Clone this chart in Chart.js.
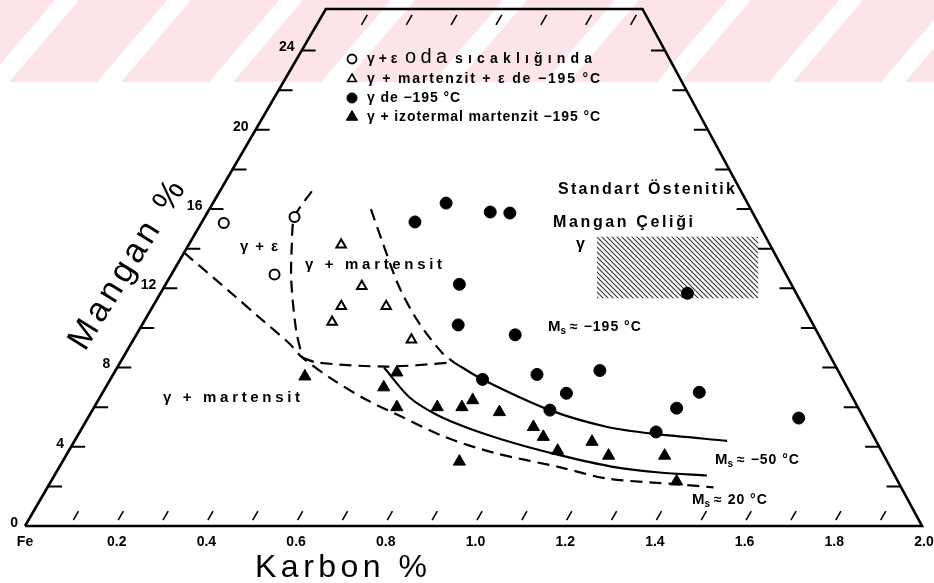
<!DOCTYPE html>
<html>
<head>
<meta charset="utf-8">
<script src="https://cdn.jsdelivr.net/npm/chart.js@4.4.1/dist/chart.umd.min.js"></script>
<style>
  html, body { margin: 0; padding: 0; background: #fff; }
  #wrap { width: 934px; height: 583px; }
</style>
</head>
<body>
<div id="wrap"><canvas id="diagram" width="934" height="583"></canvas></div>
<script>
/* =======================
   Data  (Karbon %, Mangan %)
======================= */
const frameC  = [0, 2.0, 0.706, 0, 0];
const frameMn = [0, 0, 26.1, 26.1, 0];

// ○ γ + ε oda sıcaklığında
const gammaEpsC  = [0.05, 0.20, 0.23];
const gammaEpsMn = [15.3, 15.6, 12.7];

// △ γ + martenzit + ε de −195 °C
const martEpsC  = [0.34, 0.44, 0.42, 0.52, 0.42, 0.62];
const martEpsMn = [14.2, 12.1, 11.1, 11.1, 10.3, 9.4];

// ● γ de −195 °C
const gammaC  = [0.52, 0.475, 0.63, 0.675, 0.655, 0.705, 0.845, 1.175, 0.83,
                 0.945, 1.02, 1.08, 1.035, 1.285, 1.30, 1.33, 1.585];
const gammaMn = [16.3, 15.35, 15.85, 15.8, 12.2, 10.15, 9.65, 11.75, 7.4,
                 7.65, 5.85, 7.85, 6.7, 4.75, 5.95, 6.75, 5.45];

// ▲ γ + izotermal martenzit −195 °C
const isoMartC  = [0.43, 0.62, 0.63, 0.675, 0.765, 0.82, 0.835, 0.91, 1.005,
                   1.04, 1.09, 0.885, 1.155, 1.21, 1.335, 1.395];
const isoMartMn = [7.55, 7.0, 7.75, 6.0, 6.0, 6.0, 6.35, 5.75, 5.0,
                   4.5, 3.8, 3.25, 4.25, 3.55, 3.55, 2.25];

// boundary curves
const ms20C   = [0, 0.17, 0.25, 0.35, 0.40, 0.50, 0.60, 0.70, 0.82, 0.95, 1.12, 1.235, 1.405, 1.485];
const ms20Mn  = [13.8, 11.6, 10.55, 9.25, 8.5, 7.35, 6.35, 5.5, 4.5, 3.7, 2.95, 2.4, 2.1, 1.95];
const epsBoundC  = [0.205, 0.20, 0.23, 0.275, 0.35, 0.40];
const epsBoundMn = [16.9, 15.6, 14.2, 12.4, 9.9, 8.5];
const flatC   = [0.40, 0.44, 0.60, 0.74];
const flatMn  = [8.5, 8.25, 8.05, 8.25];
const ms195DashC  = [0.36, 0.43, 0.525, 0.615, 0.705, 0.745];
const ms195DashMn = [16.0, 14.3, 12.05, 10.25, 8.75, 8.25];
const ms195C  = [0.745, 0.83, 1.02, 1.17, 1.285, 1.455];
const ms195Mn = [8.25, 7.4, 5.85, 5.0, 4.65, 4.3];
const ms50C   = [0.595, 0.69, 0.775, 0.86, 0.98, 1.095, 1.23, 1.345, 1.455];
const ms50Mn  = [8.0, 6.5, 5.6, 4.95, 4.2, 3.6, 3.0, 2.7, 2.55];

// standart östenitik mangan çeliği (hatched)
const hatchC  = [0.90, 1.26, 1.34, 0.97];
const hatchMn = [14.6, 14.6, 11.5, 11.5];

// axis ticks
const karbonTicks  = [0, 0.2, 0.4, 0.6, 0.8, 1.0, 1.2, 1.4, 1.6, 1.8, 2.0];
const karbonLabels = ["Fe", "0.2", "0.4", "0.6", "0.8", "1.0", "1.2", "1.4", "1.6", "1.8", "2.0"];
const manganTicks  = [0, 4, 8, 12, 16, 20, 24];
const manganLabels = ["0", "4", "8", "12", "16", "20", "24"];

/* =======================
   Geometry helpers
======================= */
const SKEW = 0.0257;          // slant of the Mn axis, in %C per %Mn
const FONT = '"Liberation Sans", Arial, sans-serif';

function toPoints(cs, mns) {
  return cs.map((c, i) => ({ x: c + SKEW * mns[i], y: mns[i] }));
}

function markers(cs, mns, style, radius, fill, bw) {
  return {
    data: toPoints(cs, mns),
    pointStyle: style,
    pointRadius: radius,
    pointBackgroundColor: fill,
    pointBorderColor: "#000",
    pointBorderWidth: bw,
    showLine: false,
    clip: false
  };
}

function curve(cs, mns, dashed, width = 2.2, tension = 0.3) {
  return {
    data: toPoints(cs, mns),
    showLine: true,
    borderColor: "#000",
    borderWidth: width,
    borderDash: dashed ? [12, 7] : [],
    pointRadius: 0,
    tension: tension,
    fill: false,
    clip: false
  };
}

function hatchPattern() {
  const c = document.createElement("canvas");
  c.width = 5; c.height = 5;
  const g = c.getContext("2d");
  g.strokeStyle = "#333";
  g.lineWidth = 1.1;
  g.beginPath();
  g.moveTo(-1, -1); g.lineTo(6, 6);
  g.moveTo(-1, 4); g.lineTo(1, 6);
  g.moveTo(4, -1); g.lineTo(6, 1);
  g.stroke();
  return g.createPattern(c, "repeat");
}

/* =======================
   Text helpers
======================= */
function fitText(ctx, str, x, y, width, font) {
  ctx.font = font;
  ctx.letterSpacing = "0px";
  const w = ctx.measureText(str).width;
  const n = [...str].length;
  const sp = Math.max(0, (width - w) / Math.max(1, n - 1));
  ctx.letterSpacing = sp + "px";
  ctx.textAlign = "left";
  ctx.fillText(str, x, y);
  ctx.letterSpacing = "0px";
}

function msLabel(ctx, rest, x, y) {
  ctx.textAlign = "left";
  ctx.font = "bold 15px " + FONT;
  ctx.fillText("M", x, y);
  let w = ctx.measureText("M").width;
  ctx.font = "bold 10px " + FONT;
  ctx.fillText("s", x + w, y + 4);
  w += ctx.measureText("s").width + 4;
  ctx.font = "bold 14px " + FONT;
  ctx.letterSpacing = "1px";
  ctx.fillText(rest, x + w, y);
  ctx.letterSpacing = "0px";
}

function marker(ctx, style, x, y, r, filled, bw) {
  ctx.save();
  ctx.fillStyle = filled ? "#000" : "#fff";
  ctx.strokeStyle = "#000";
  ctx.lineWidth = bw;
  Chart.helpers.drawPoint(ctx, { pointStyle: style, radius: r, rotation: 0, borderWidth: bw }, x, y);
  ctx.restore();
}

/* =======================
   Decoration plugin: watermark, frame ticks, labels, legend
======================= */
const decor = {
  id: "decor",
  beforeDraw(chart) {
    const { ctx, width, height } = chart;
    ctx.save();
    ctx.fillStyle = "#fff";
    ctx.fillRect(0, 0, width, height);
    ctx.beginPath();
    ctx.rect(0, 0, width, 82);
    ctx.clip();
    ctx.fillStyle = "#fce4e9";
    ctx.fillRect(0, 0, width, 82);
    ctx.fillStyle = "#fff";
    for (let x = 55 - 224; x < width + 120; x += 112) {
      ctx.beginPath();
      ctx.moveTo(x, 0);
      ctx.lineTo(x + 24, 0);
      ctx.lineTo(x - 46, 82);
      ctx.lineTo(x - 70, 82);
      ctx.closePath();
      ctx.fill();
    }
    ctx.restore();
  },
  afterDatasetsDraw(chart) {
    const { ctx } = chart;
    const xs = chart.scales.x, ys = chart.scales.y;
    const P = (c, mn) => [xs.getPixelForValue(c + SKEW * mn), ys.getPixelForValue(mn)];
    const rightC = mn => frameC[1] + (frameC[2] - frameC[1]) * mn / frameMn[2];

    ctx.save();
    ctx.strokeStyle = "#000";
    ctx.fillStyle = "#000";
    ctx.lineWidth = 2;

    // Mn ticks on both slanted edges
    for (let m = 2; m <= 24; m += 2) {
      const [lx, ly] = P(0, m);
      const [rx, ry] = P(rightC(m), m);
      ctx.beginPath();
      ctx.moveTo(lx, ly); ctx.lineTo(lx + 14, ly);
      ctx.moveTo(rx, ry); ctx.lineTo(rx - 14, ry);
      ctx.stroke();
    }
    // C ticks, slanted, on bottom and top edges
    ctx.lineWidth = 1.6;
    for (let i = 1; i <= 19; i++) {
      const c = i / 10;
      const [x1, y1] = P(c, 0.3), [x2, y2] = P(c, 0.75);
      ctx.beginPath(); ctx.moveTo(x1, y1); ctx.lineTo(x2, y2); ctx.stroke();
    }
    for (let i = 1; i <= 7; i++) {
      const c = i / 10;
      const [x1, y1] = P(c, 25.3), [x2, y2] = P(c, 25.8);
      ctx.beginPath(); ctx.moveTo(x1, y1); ctx.lineTo(x2, y2); ctx.stroke();
    }

    // tick labels
    ctx.font = "bold 14px " + FONT;
    ctx.textBaseline = "middle";
    ctx.textAlign = "right";
    manganTicks.forEach((m, i) => {
      const [x, y] = P(0, m);
      ctx.fillText(manganLabels[i], x - 7, y - 3);
    });
    ctx.textAlign = "center";
    karbonTicks.forEach((c, i) => {
      const [x, y] = P(c, 0);
      ctx.fillText(karbonLabels[i], x + (i === 0 ? 0 : 2), y + 16);
    });

    // axis titles
    ctx.textBaseline = "alphabetic";
    fitText(ctx, "Karbon %", 255, 577, 172, "32px " + FONT);
    ctx.save();
    ctx.translate(85, 352);
    ctx.rotate(-58.3 * Math.PI / 180);
    fitText(ctx, "Mangan %", 0, 0, 192, "34px " + FONT);
    ctx.restore();

    // region labels
    ctx.textBaseline = "middle";
    fitText(ctx, "γ + ε", 240, 247, 38, "bold 15px " + FONT);
    fitText(ctx, "γ + martensit", 305, 265, 137, "bold 15px " + FONT);
    fitText(ctx, "γ + martensit", 163, 398, 137, "bold 15px " + FONT);
    fitText(ctx, "Standart Östenitik", 558, 190, 177, "bold 16px " + FONT);
    fitText(ctx, "Mangan Çeliği", 553, 223, 140, "bold 16px " + FONT);
    fitText(ctx, "γ", 576, 245, 10, "bold 16px " + FONT);
    msLabel(ctx, "≈ −195 °C", 548, 327);
    msLabel(ctx, "≈ −50 °C", 715, 460);
    msLabel(ctx, "≈ 20 °C", 692, 500);

    // legend
    marker(ctx, "circle", 352, 59, 4.5, false, 1.8);
    fitText(ctx, "γ + ε", 367, 59, 30, "bold 14px " + FONT);
    fitText(ctx, "oda", 405, 57, 42, "20px " + FONT);
    fitText(ctx, "sıcaklığında", 455, 59, 137, "bold 14px " + FONT);
    marker(ctx, "triangle", 352, 79, 5, false, 1.6);
    fitText(ctx, "γ + martenzit + ε de −195 °C", 367, 79, 233, "bold 14px " + FONT);
    marker(ctx, "circle", 352, 98, 5, true, 1);
    fitText(ctx, "γ de −195 °C", 367, 98, 93, "bold 14px " + FONT);
    marker(ctx, "triangle", 352, 117, 6.5, true, 1);
    fitText(ctx, "γ + izotermal martenzit −195 °C", 367, 117, 233, "bold 14px " + FONT);

    ctx.restore();
  }
};

/* =======================
   Chart
======================= */
const hatchTop = toPoints(hatchC.slice(0, 2), hatchMn.slice(0, 2));
const hatchBot = toPoints(hatchC.slice(2).reverse(), hatchMn.slice(2).reverse());

new Chart(document.getElementById("diagram").getContext("2d"), {
  type: "scatter",
  data: {
    datasets: [
      markers(gammaC, gammaMn, "circle", 6, "#000", 1),
      markers(isoMartC, isoMartMn, "triangle", 7, "#000", 1),
      markers(gammaEpsC, gammaEpsMn, "circle", 5, "#fff", 2),
      markers(martEpsC, martEpsMn, "triangle", 5.5, "#fff", 2),
      curve(frameC, frameMn, false, 2.6, 0),
      curve(ms20C, ms20Mn, true),
      curve(epsBoundC, epsBoundMn, true),
      curve(flatC, flatMn, true),
      curve(ms195DashC, ms195DashMn, true),
      curve(ms195C, ms195Mn, false),
      curve(ms50C, ms50Mn, false),
      { data: hatchTop, showLine: true, borderWidth: 0, pointRadius: 0,
        backgroundColor: hatchPattern(), fill: "+1", clip: false },
      { data: hatchBot, showLine: true, borderWidth: 0, pointRadius: 0, fill: false, clip: false }
    ]
  },
  options: {
    responsive: false,
    animation: false,
    events: [],
    layout: { padding: { left: 25, right: 12, top: 9, bottom: 57 } },
    scales: {
      x: { type: "linear", min: 0, max: 2.0, display: false },
      y: { type: "linear", min: 0, max: 26.1, display: false }
    },
    plugins: { legend: { display: false }, tooltip: { enabled: false } }
  },
  plugins: [decor]
});
</script>
</body>
</html>
